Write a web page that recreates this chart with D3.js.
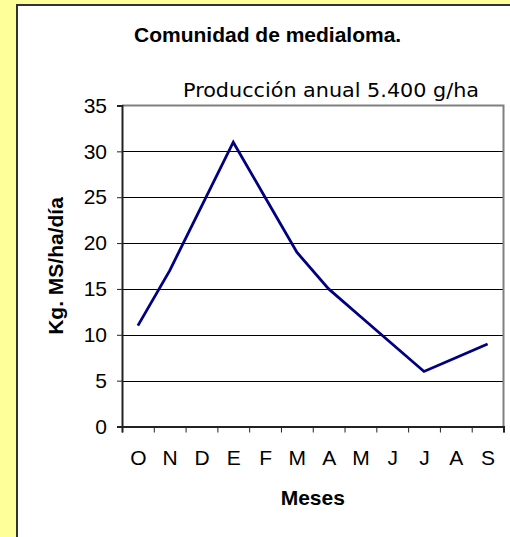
<!DOCTYPE html>
<html>
<head>
<meta charset="utf-8">
<script src="https://cdn.jsdelivr.net/npm/d3@7"></script>
<style>
  html, body { margin: 0; padding: 0; background: #FFFF99; }
  svg { display: block; }
</style>
</head>
<body>
<svg id="chart" width="510" height="537"></svg>
<script>
// ---- data ----
const months = ["O", "N", "D", "E", "F", "M", "A", "M", "J", "J", "A", "S"];
const values = [11, 17, 24, 31, 25, 19, 15, 12, 9, 6, 7.5, 9];
const yTicks = [0, 5, 10, 15, 20, 25, 30, 35];
const titleText = "Comunidad de medialoma.";
const subtitleText = "Producción anual 5.400 g/ha";
const xTitle = "Meses";
const yTitle = "Kg. MS/ha/día";

const svg = d3.select("#chart");
const W = 510, H = 537;

// background
svg.append("rect").attr("x", 0).attr("y", 0).attr("width", W).attr("height", H).attr("fill", "#FFFF99");
// white panel
svg.append("rect").attr("x", 17).attr("y", 5).attr("width", 600).attr("height", 600)
  .attr("fill", "#FFFFFF").attr("stroke", "#333333").attr("stroke-width", 2);

const plot = { left: 122, right: 503.5, top: 105.5, bottom: 426.5 };

const x = d3.scaleLinear().domain([0, months.length]).range([plot.left, plot.right]);
const y = d3.scaleLinear().domain([0, 35]).range([plot.bottom, plot.top]);

// gridlines
svg.append("g").selectAll("line").data(yTicks.filter(d => d > 0 && d < 35)).join("line")
  .attr("x1", plot.left).attr("x2", plot.right)
  .attr("y1", d => Math.round(y(d)) + 0.5).attr("y2", d => Math.round(y(d)) + 0.5)
  .attr("stroke", "#000").attr("stroke-width", 1);

// plot border (top & right) gray
svg.append("path")
  .attr("d", `M${plot.left},${plot.top}H${plot.right}V${plot.bottom}`)
  .attr("fill", "none").attr("stroke", "#808080").attr("stroke-width", 2);

// y axis
const yAxis = d3.axisLeft(y).tickValues(yTicks).tickSize(5).tickPadding(10);
const gy = svg.append("g").attr("transform", `translate(${plot.left},0)`).call(yAxis);
gy.select(".domain").attr("stroke", "#222").attr("stroke-width", 2);
gy.selectAll(".tick line").attr("stroke", "#222").attr("stroke-width", 1);
gy.selectAll("text").attr("font-family", "Liberation Sans, Arial, sans-serif")
  .attr("font-size", 21).attr("fill", "#000");

// x axis ticks at boundaries
const xAxisTicks = d3.axisBottom(x).tickValues(d3.range(0, months.length + 1)).tickSize(6).tickFormat("");
const gx = svg.append("g").attr("transform", `translate(0,${plot.bottom})`).call(xAxisTicks);
gx.select(".domain").attr("stroke", "#222").attr("stroke-width", 2);
gx.selectAll(".tick line").attr("stroke", "#222").attr("stroke-width", 1);

// x labels at centers
const xAxisLabels = d3.axisBottom(x).tickValues(d3.range(months.length).map(i => i + 0.5))
  .tickSize(0).tickPadding(24).tickFormat(d => months[Math.floor(d)]);
const gxl = svg.append("g").attr("transform", `translate(0,${plot.bottom})`).call(xAxisLabels);
gxl.select(".domain").remove();
gxl.selectAll("text").attr("font-family", "Liberation Sans, Arial, sans-serif")
  .attr("font-size", 21).attr("fill", "#000");

// line
const line = d3.line().x((d, i) => x(i + 0.5)).y(d => y(d));
svg.append("path").datum(values).attr("d", line)
  .attr("fill", "none").attr("stroke", "#000080").attr("stroke-width", 2.8)
  .attr("stroke-linejoin", "miter");

// titles
svg.append("text").attr("x", 134).attr("y", 41.7)
  .attr("font-family", "Liberation Sans, Arial, sans-serif").attr("font-weight", "bold")
  .attr("font-size", 21).attr("fill", "#000").text(titleText);

svg.append("text").attr("x", 183).attr("y", 97)
  .attr("font-family", "DejaVu Sans, sans-serif")
  .attr("font-size", 20).attr("fill", "#000")
  .attr("textLength", 296).attr("lengthAdjust", "spacingAndGlyphs").text(subtitleText);

svg.append("text").attr("x", (plot.left + plot.right) / 2).attr("y", 505)
  .attr("text-anchor", "middle")
  .attr("font-family", "Liberation Sans, Arial, sans-serif").attr("font-weight", "bold")
  .attr("font-size", 21).attr("fill", "#000").text(xTitle);

svg.append("text")
  .attr("transform", `translate(63,${(plot.top + plot.bottom) / 2}) rotate(-90)`)
  .attr("text-anchor", "middle")
  .attr("font-family", "Liberation Sans, Arial, sans-serif").attr("font-weight", "bold")
  .attr("font-size", 21).attr("fill", "#000").text(yTitle);
</script>
</body>
</html>
